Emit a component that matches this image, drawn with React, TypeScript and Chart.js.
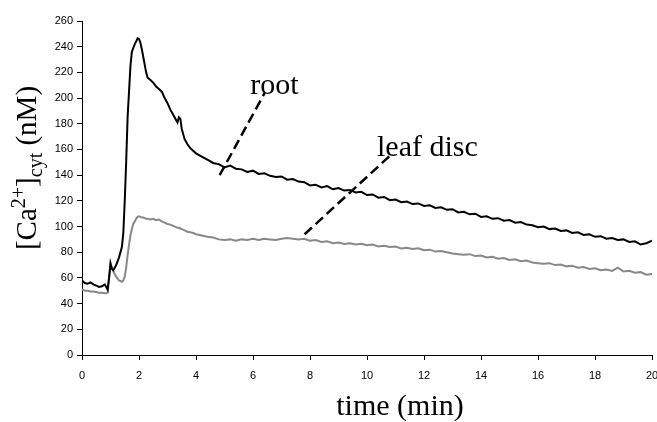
import React, { useEffect, useRef } from "react";
import { Chart, registerables } from "chart.js";

Chart.register(...registerables);

// Time points (min)
const timeMin = [
  0, 0.1, 0.2, 0.3, 0.4, 0.5, 0.6, 0.7, 0.8, 0.85, 0.9, 0.95, 1.0, 1.05, 1.1, 1.2, 1.3, 1.4, 1.45, 1.5,
  1.55, 1.6, 1.65, 1.7, 1.75, 1.8, 1.85, 1.9, 1.95, 2.0, 2.05, 2.1, 2.15, 2.2, 2.25, 2.3, 2.4, 2.5, 2.6, 2.7,
  2.8, 2.9, 3.0, 3.1, 3.2, 3.3, 3.35, 3.4, 3.45, 3.5, 3.6, 3.7, 3.8, 3.9,
  4.0, 4.2, 4.4, 4.6, 4.8, 5.0, 5.2, 5.4, 5.6, 5.8, 6.0, 6.2, 6.4, 6.6, 6.8, 7.0, 7.2, 7.4, 7.6, 7.8,
  8.0, 8.2, 8.4, 8.6, 8.8, 9.0, 9.2, 9.4, 9.6, 9.8, 10.0, 10.2, 10.4, 10.6, 10.8, 11.0, 11.2, 11.4, 11.6, 11.8,
  12.0, 12.2, 12.4, 12.6, 12.8, 13.0, 13.2, 13.4, 13.6, 13.8, 14.0, 14.2, 14.4, 14.6, 14.8, 15.0, 15.2, 15.4, 15.6, 15.8,
  16.0, 16.2, 16.4, 16.6, 16.8, 17.0, 17.2, 17.4, 17.6, 17.8, 18.0, 18.2, 18.4, 18.6, 18.8, 19.0, 19.2, 19.4, 19.6, 19.8,
  20.0,
];

// Cytosolic Ca2+ (nM), root
const rootCa = [
  58, 56, 55.5, 56.5, 55, 54, 53, 53.5, 55, 53, 51, 60, 71, 67, 66, 70, 76, 84, 95, 120,
  150, 185, 205, 225, 236, 239, 242, 244, 246.5, 246, 243, 238, 232, 226, 220, 216, 214, 212, 209, 207,
  205, 200, 196, 191, 187, 183, 181, 185, 184, 176, 168, 164, 161, 159,
  157, 154.5, 152, 149.5, 148.5, 146, 147.5, 145, 144.5, 142.5, 143.5, 141, 141.5, 139.5, 138.5, 139, 136.5, 137, 135, 134.5,
  132, 132.5, 130.5, 131.5, 129, 130, 128, 128.5, 126.5, 127, 124.5, 125, 122.5, 123, 120.5, 121, 119, 119.5, 117.5, 118,
  116, 116.5, 114.5, 115, 113, 113.5, 111, 111.5, 109.5, 110, 107.5, 108, 106, 106.5, 104.5, 105, 103, 103.5, 101.5, 101,
  99.5, 100, 98, 98.5, 96.5, 97, 95, 95.5, 93.5, 94, 92, 92.5, 90.5, 91, 89.5, 90, 88, 88.5, 86, 87,
  89,
];

// Cytosolic Ca2+ (nM), leaf disc
const leafCa = [
  51, 50, 50, 49.5, 49.5, 49, 48.5, 48.5, 48, 48, 48.5, 60, 72, 68, 65, 61, 58, 57, 58, 61,
  68, 78, 86, 93, 98, 102, 104, 106, 107.5, 108, 107.5, 107, 107, 106.5, 106, 106, 105.5, 106, 105, 105.5,
  104, 103, 102, 101.5, 100.5, 99.5, 99, 99, 98.5, 98, 97, 96, 95.5, 95,
  94, 93, 92, 91.5, 90, 89.5, 90, 89, 90, 89.5, 90.5, 89.5, 90.5, 90, 89.5, 90.5, 91, 90.5, 90, 90.5,
  89, 89.5, 88, 88.5, 87, 87.5, 86.5, 87, 86, 86.5, 85.5, 86, 84.5, 85, 84, 84.5, 83, 83.5, 82.5, 83,
  81.5, 82, 80.5, 81, 80, 79, 78.5, 78, 78.5, 77, 77.5, 76, 76.5, 75, 75.5, 74, 74.5, 73, 73.5, 72,
  71.5, 71, 71.5, 70, 70.5, 69, 69.5, 68, 68.5, 67, 67.5, 66, 66.5, 65.5, 68, 65, 65.5, 64, 64.5, 62.5,
  63,
];

// Axis ranges and tick steps
const xRange = [0, 20];
const xStep = 2;
const yRange = [0, 260];
const yStep = 20;

// Callout labels: [text, x (min), y (nM)] and their dashed leader lines
const calloutText = ["root", "leaf disc"];
const calloutAnchor = [
  [5.9, 203],
  [10.35, 155],
];
const leaderFrom = [
  [4.83, 140],
  [7.81, 94],
];
const leaderTo = [
  [6.41, 204],
  [10.8, 155],
];

const SERIF = "'Liberation Serif', 'Times New Roman', Times, serif";
const SANS = "'Liberation Sans', Arial, Helvetica, sans-serif";

const annotationPlugin = {
  id: "caAnnotations",
  afterDatasetsDraw(chart: any) {
    const { ctx, scales, chartArea } = chart;
    const xs = scales.x;
    const ys = scales.y;
    ctx.save();

    // dashed leader lines
    ctx.strokeStyle = "#000";
    ctx.lineWidth = 2.5;
    ctx.setLineDash([10, 5]);
    ctx.lineCap = "butt";
    for (let i = 0; i < leaderFrom.length; i++) {
      ctx.beginPath();
      ctx.moveTo(xs.getPixelForValue(leaderFrom[i][0]), ys.getPixelForValue(leaderFrom[i][1]));
      ctx.lineTo(xs.getPixelForValue(leaderTo[i][0]), ys.getPixelForValue(leaderTo[i][1]));
      ctx.stroke();
    }
    ctx.setLineDash([]);

    // callout text
    ctx.fillStyle = "#000";
    ctx.font = `30px ${SERIF}`;
    ctx.textAlign = "left";
    ctx.textBaseline = "alphabetic";
    for (let i = 0; i < calloutText.length; i++) {
      ctx.fillText(
        calloutText[i],
        xs.getPixelForValue(calloutAnchor[i][0]),
        ys.getPixelForValue(calloutAnchor[i][1])
      );
    }

    // x-axis title
    ctx.font = `30px ${SERIF}`;
    ctx.textAlign = "center";
    ctx.fillText("time (min)", chartArea.left + 318, chartArea.bottom + 60);

    // y-axis title with superscript and subscript, reading bottom to top
    const parts: [string, number, number][] = [
      ["[Ca", 29, 0],
      ["2+", 20, -11],
      ["]", 29, 0],
      ["cyt", 20, 6],
      [" (nM)", 29, 0],
    ];
    let total = 0;
    const widths: number[] = [];
    for (const [t, size] of parts) {
      ctx.font = `${size}px ${SERIF}`;
      const w = ctx.measureText(t).width;
      widths.push(w);
      total += w;
    }
    ctx.translate(36, 168 + total / 2);
    ctx.rotate(-Math.PI / 2);
    ctx.textAlign = "left";
    let pos = 0;
    parts.forEach(([t, size, dy], i) => {
      ctx.font = `${size}px ${SERIF}`;
      ctx.fillText(t, pos, dy);
      pos += widths[i];
    });

    ctx.restore();
  },
};

export default function App() {
  const canvasRef = useRef<HTMLCanvasElement | null>(null);

  useEffect(() => {
    const canvas = canvasRef.current;
    if (!canvas) return;

    const rootPoints = timeMin.map((t, i) => ({ x: t, y: rootCa[i] }));
    const leafPoints = timeMin.map((t, i) => ({ x: t, y: leafCa[i] }));

    const chart = new Chart(canvas, {
      type: "line",
      data: {
        datasets: [
          {
            label: "root",
            data: rootPoints,
            borderColor: "#000000",
            borderWidth: 2,
            pointRadius: 0,
            tension: 0,
          },
          {
            label: "leaf disc",
            data: leafPoints,
            borderColor: "#888888",
            borderWidth: 2,
            pointRadius: 0,
            tension: 0,
          },
        ],
      },
      options: {
        animation: false,
        responsive: false,
        devicePixelRatio: 1,
        layout: { padding: { top: 21, right: 28, bottom: 0, left: 0 } },
        plugins: {
          legend: { display: false },
          tooltip: { enabled: false },
          title: { display: false },
        },
        scales: {
          x: {
            type: "linear",
            min: xRange[0],
            max: xRange[1],
            afterFit: (scale: any) => {
              scale.height = 67;
            },
            ticks: {
              stepSize: xStep,
              maxRotation: 0,
              padding: 9,
              color: "#000",
              font: { family: SANS, size: 11 },
            },
            grid: {
              display: true,
              drawOnChartArea: false,
              drawTicks: true,
              tickLength: 5,
              color: "#000",
            },
            border: { display: true, color: "#000", width: 1 },
          },
          y: {
            type: "linear",
            min: yRange[0],
            max: yRange[1],
            afterFit: (scale: any) => {
              scale.width = 82;
            },
            ticks: {
              stepSize: yStep,
              padding: 4,
              color: "#000",
              font: { family: SANS, size: 11 },
            },
            grid: {
              display: true,
              drawOnChartArea: false,
              drawTicks: true,
              tickLength: 5,
              color: "#000",
            },
            border: { display: true, color: "#000", width: 1 },
          },
        },
      },
      plugins: [annotationPlugin],
    });

    return () => {
      chart.destroy();
    };
  }, []);

  return (
    <div
      style={{
        position: "fixed",
        left: 0,
        top: 0,
        width: 657,
        height: 422,
        overflow: "hidden",
        background: "#fff",
      }}
    >
      <canvas ref={canvasRef} width={680} height={422} style={{ display: "block" }} />
    </div>
  );
}
